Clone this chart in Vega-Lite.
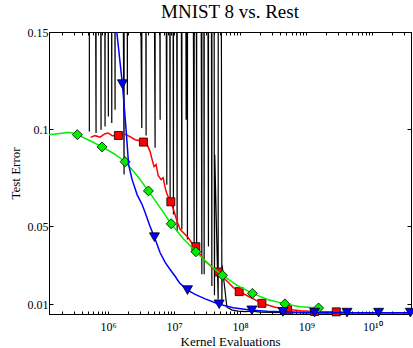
{
  "$schema": "https://vega.github.io/schema/vega-lite/v6.json",
  "width": 362,
  "height": 282,
  "autosize": {"type": "none"},
  "padding": {"left": 49, "top": 32, "right": 2, "bottom": 34},
  "background": "white",
  "title": {"text": "MNIST 8 vs. Rest", "font": "Liberation Serif", "fontSize": 19, "fontWeight": "normal", "color": "black", "baseline": "alphabetic", "offset": 12, "dy": 23, "frame": "group", "anchor": "middle"},
  "config": {
    "view": {"stroke": "black", "strokeWidth": 1},
    "axis": {"grid": false, "domainColor": "black", "tickColor": "black", "labelColor": "black", "titleColor": "black", "labelFont": "Liberation Serif", "titleFont": "Liberation Serif", "labelFontSize": 12, "titleFontSize": 13, "titleFontWeight": "normal", "labelOverlap": false, "labelBound": false, "labelFlush": false}
  },
  "data": {"values": [
    {"s": "black", "k": 520800, "e": 0.0989, "m": 0}, {"s": "black", "k": 526000, "e": 1, "m": 0},
    {"s": "black", "k": 657900, "e": 0.0981, "m": 0}, {"s": "black", "k": 664500, "e": 1, "m": 0},
    {"s": "black", "k": 783200, "e": 0.0997, "m": 0}, {"s": "black", "k": 791000, "e": 1, "m": 0},
    {"s": "black", "k": 900500, "e": 0.1014, "m": 0}, {"s": "black", "k": 909500, "e": 1, "m": 0},
    {"s": "black", "k": 1010400, "e": 0.1066, "m": 0}, {"s": "black", "k": 1020500, "e": 1, "m": 0},
    {"s": "black", "k": 1137900, "e": 0.1032, "m": 0}, {"s": "black", "k": 1149300, "e": 1, "m": 0},
    {"s": "black", "k": 1276700, "e": 0.11, "m": 0}, {"s": "black", "k": 1289500, "e": 1, "m": 0},
    {"s": "black", "k": 1747300, "e": 0.0767, "m": 0}, {"s": "black", "k": 1764800, "e": 1, "m": 0},
    {"s": "black", "k": 1960700, "e": 0.1177, "m": 0}, {"s": "black", "k": 1980300, "e": 1, "m": 0},
    {"s": "black", "k": 3239900, "e": 0.1006, "m": 0}, {"s": "black", "k": 3272300, "e": 1, "m": 0},
    {"s": "black", "k": 3765100, "e": 0.0968, "m": 0}, {"s": "black", "k": 3802800, "e": 1, "m": 0},
    {"s": "black", "k": 5153500, "e": 0.0905, "m": 0}, {"s": "black", "k": 5205000, "e": 1, "m": 0},
    {"s": "black", "k": 6137600, "e": 0.1049, "m": 0}, {"s": "black", "k": 6199000, "e": 1, "m": 0},
    {"s": "black", "k": 7751900, "e": 0.0715, "m": 0}, {"s": "black", "k": 7829400, "e": 1, "m": 0},
    {"s": "black", "k": 8697500, "e": 0.0623, "m": 0}, {"s": "black", "k": 8784500, "e": 1, "m": 0},
    {"s": "black", "k": 9758900, "e": 0.0562, "m": 0}, {"s": "black", "k": 9856500, "e": 1, "m": 0},
    {"s": "black", "k": 11104000, "e": 0.0474, "m": 0}, {"s": "black", "k": 11215000, "e": 1, "m": 0},
    {"s": "black", "k": 13087000, "e": 0.0485, "m": 0}, {"s": "black", "k": 13218000, "e": 1, "m": 0},
    {"s": "black", "k": 15199000, "e": 0.1049, "m": 0}, {"s": "black", "k": 15351000, "e": 1, "m": 0},
    {"s": "black", "k": 15904000, "e": 0.0433, "m": 0}, {"s": "black", "k": 16063000, "e": 1, "m": 0},
    {"s": "black", "k": 20091000, "e": 0.0392, "m": 0}, {"s": "black", "k": 20292000, "e": 1, "m": 0},
    {"s": "black", "k": 21918000, "e": 0.0382, "m": 0}, {"s": "black", "k": 22137000, "e": 1, "m": 0},
    {"s": "black", "k": 26285000, "e": 0.0254, "m": 0}, {"s": "black", "k": 26548000, "e": 1, "m": 0},
    {"s": "black", "k": 28483000, "e": 0.0254, "m": 0}, {"s": "black", "k": 28768000, "e": 1, "m": 0},
    {"s": "black", "k": 33089000, "e": 0.0397, "m": 0}, {"s": "black", "k": 33420000, "e": 1, "m": 0},
    {"s": "black", "k": 37256000, "e": 0.0194, "m": 0}, {"s": "black", "k": 37629000, "e": 1, "m": 0},
    {"s": "black", "k": 40788000, "e": 0.0146, "m": 0}, {"s": "black", "k": 41196000, "e": 0.0869, "m": 0},
    {"s": "black", "k": 46416000, "e": 0.0126, "m": 0}, {"s": "black", "k": 46880000, "e": 1, "m": 0},
    {"s": "black", "k": 52796000, "e": 0.01, "m": 0}, {"s": "black", "k": 53324000, "e": 0.03, "m": 0},
    {"s": "black", "k": 62883000, "e": 0.0085, "m": 0},
    {"s": "black", "k": 75680000, "e": 0.007, "m": 0},
    {"s": "black", "k": 93330000, "e": 0.0065, "m": 0},
    {"s": "black", "k": 119100000, "e": 0.0062, "m": 0},
    {"s": "black", "k": 152100000, "e": 0.0065, "m": 0},
    {"s": "black", "k": 200900000, "e": 0.006, "m": 0},
    {"s": "black", "k": 316200000, "e": 0.0058, "m": 0},
    {"s": "black", "k": 1000000000, "e": 0.0056, "m": 0},
    {"s": "black", "k": 38000000000, "e": 0.0056, "m": 0},

    {"s": "red", "k": 544500, "e": 0.0958, "m": 0},
    {"s": "red", "k": 635300, "e": 0.0967, "m": 0},
    {"s": "red", "k": 756800, "e": 0.0959, "m": 0},
    {"s": "red", "k": 901600, "e": 0.0977, "m": 0},
    {"s": "red", "k": 1000000, "e": 0.0981, "m": 0},
    {"s": "red", "k": 1151000, "e": 0.0967, "m": 0},
    {"s": "red", "k": 1432000, "e": 0.0968, "m": 1},
    {"s": "red", "k": 1746000, "e": 0.0977, "m": 0},
    {"s": "red", "k": 2153000, "e": 0.0962, "m": 0},
    {"s": "red", "k": 2564000, "e": 0.0946, "m": 0},
    {"s": "red", "k": 3055000, "e": 0.0941, "m": 0},
    {"s": "red", "k": 3428000, "e": 0.0934, "m": 1},
    {"s": "red", "k": 3899000, "e": 0.0921, "m": 0},
    {"s": "red", "k": 4325000, "e": 0.0885, "m": 0},
    {"s": "red", "k": 4645000, "e": 0.0844, "m": 0},
    {"s": "red", "k": 4977000, "e": 0.0808, "m": 0},
    {"s": "red", "k": 5333000, "e": 0.0818, "m": 0},
    {"s": "red", "k": 5728000, "e": 0.0762, "m": 0},
    {"s": "red", "k": 6353000, "e": 0.0741, "m": 0},
    {"s": "red", "k": 6808000, "e": 0.0751, "m": 0},
    {"s": "red", "k": 7311000, "e": 0.07, "m": 0},
    {"s": "red", "k": 7834000, "e": 0.0664, "m": 0},
    {"s": "red", "k": 8913000, "e": 0.0627, "m": 1},
    {"s": "red", "k": 10000000, "e": 0.0577, "m": 0},
    {"s": "red", "k": 11090000, "e": 0.0526, "m": 0},
    {"s": "red", "k": 12330000, "e": 0.0485, "m": 0},
    {"s": "red", "k": 14190000, "e": 0.0464, "m": 0},
    {"s": "red", "k": 16290000, "e": 0.0444, "m": 0},
    {"s": "red", "k": 18750000, "e": 0.0413, "m": 0},
    {"s": "red", "k": 21330000, "e": 0.0396, "m": 1},
    {"s": "red", "k": 24770000, "e": 0.0356, "m": 0},
    {"s": "red", "k": 29510000, "e": 0.0321, "m": 0},
    {"s": "red", "k": 35080000, "e": 0.03, "m": 0},
    {"s": "red", "k": 40360000, "e": 0.0279, "m": 0},
    {"s": "red", "k": 46880000, "e": 0.0266, "m": 1},
    {"s": "red", "k": 55210000, "e": 0.0238, "m": 0},
    {"s": "red", "k": 65770000, "e": 0.0213, "m": 0},
    {"s": "red", "k": 78340000, "e": 0.0187, "m": 0},
    {"s": "red", "k": 96610000, "e": 0.0165, "m": 1},
    {"s": "red", "k": 141900000, "e": 0.0136, "m": 0},
    {"s": "red", "k": 213300000, "e": 0.0105, "m": 1},
    {"s": "red", "k": 338800000, "e": 0.0085, "m": 0},
    {"s": "red", "k": 521200000, "e": 0.0074, "m": 1},
    {"s": "red", "k": 811000000, "e": 0.0067, "m": 0},
    {"s": "red", "k": 1337000000, "e": 0.0063, "m": 1},
    {"s": "red", "k": 2851000000, "e": 0.0061, "m": 1},
    {"s": "red", "k": 3899000000, "e": 0.0059, "m": 0},

    {"s": "green", "k": 120000, "e": 0.097, "m": 0},
    {"s": "green", "k": 187500, "e": 0.0978, "m": 0},
    {"s": "green", "k": 239300, "e": 0.0983, "m": 0},
    {"s": "green", "k": 285100, "e": 0.0982, "m": 0},
    {"s": "green", "k": 342800, "e": 0.0972, "m": 1},
    {"s": "green", "k": 533300, "e": 0.0941, "m": 0},
    {"s": "green", "k": 811000, "e": 0.0909, "m": 1},
    {"s": "green", "k": 1233000, "e": 0.0874, "m": 0},
    {"s": "green", "k": 1811000, "e": 0.0833, "m": 1},
    {"s": "green", "k": 2748000, "e": 0.0762, "m": 0},
    {"s": "green", "k": 4083000, "e": 0.0683, "m": 1},
    {"s": "green", "k": 6138000, "e": 0.0597, "m": 0},
    {"s": "green", "k": 9016000, "e": 0.0514, "m": 1},
    {"s": "green", "k": 13680000, "e": 0.0438, "m": 0},
    {"s": "green", "k": 21330000, "e": 0.037, "m": 1},
    {"s": "green", "k": 33880000, "e": 0.0305, "m": 0},
    {"s": "green", "k": 53950000, "e": 0.0249, "m": 1},
    {"s": "green", "k": 90160000, "e": 0.0197, "m": 0},
    {"s": "green", "k": 153500000, "e": 0.0156, "m": 1},
    {"s": "green", "k": 265500000, "e": 0.0123, "m": 0},
    {"s": "green", "k": 475300000, "e": 0.0102, "m": 1},
    {"s": "green", "k": 811000000, "e": 0.0087, "m": 0},
    {"s": "green", "k": 1535000000, "e": 0.0081, "m": 1},

    {"s": "blue", "k": 1170000, "e": 0.17, "m": 0},
    {"s": "blue", "k": 1355000, "e": 0.15, "m": 0},
    {"s": "blue", "k": 1648000, "e": 0.1232, "m": 1},
    {"s": "blue", "k": 1875000, "e": 0.0997, "m": 0},
    {"s": "blue", "k": 2046000, "e": 0.0818, "m": 0},
    {"s": "blue", "k": 2312000, "e": 0.0741, "m": 0},
    {"s": "blue", "k": 2748000, "e": 0.0664, "m": 0},
    {"s": "blue", "k": 3273000, "e": 0.0613, "m": 0},
    {"s": "blue", "k": 3639000, "e": 0.0572, "m": 0},
    {"s": "blue", "k": 4325000, "e": 0.05, "m": 0},
    {"s": "blue", "k": 5035000, "e": 0.0445, "m": 1},
    {"s": "blue", "k": 6138000, "e": 0.0365, "m": 0},
    {"s": "blue", "k": 7311000, "e": 0.0315, "m": 0},
    {"s": "blue", "k": 8690000, "e": 0.0279, "m": 0},
    {"s": "blue", "k": 10350000, "e": 0.0244, "m": 0},
    {"s": "blue", "k": 12020000, "e": 0.0211, "m": 0},
    {"s": "blue", "k": 15920000, "e": 0.0173, "m": 1},
    {"s": "blue", "k": 20800000, "e": 0.0151, "m": 0},
    {"s": "blue", "k": 29510000, "e": 0.0128, "m": 0},
    {"s": "blue", "k": 48080000, "e": 0.01, "m": 1},
    {"s": "blue", "k": 78340000, "e": 0.0082, "m": 0},
    {"s": "blue", "k": 150300000, "e": 0.0069, "m": 1},
    {"s": "blue", "k": 256400000, "e": 0.0064, "m": 0},
    {"s": "blue", "k": 443600000, "e": 0.0061, "m": 1},
    {"s": "blue", "k": 1337000000, "e": 0.0057, "m": 1},
    {"s": "blue", "k": 4140000000, "e": 0.0057, "m": 1},
    {"s": "blue", "k": 12450000000, "e": 0.0057, "m": 1},
    {"s": "blue", "k": 37670000000, "e": 0.0057, "m": 1}
  ]},
  "layer": [
    {
      "transform": [{"filter": "datum.s == 'black'"}],
      "mark": {"type": "line", "color": "black", "strokeWidth": 1.2, "clip": true},
      "encoding": {
        "x": {"field": "k", "type": "quantitative", "scale": {"type": "log", "domain": [127600, 38500000000], "nice": false},
          "axis": {"orient": "bottom", "values": [200000,300000,400000,500000,600000,700000,800000,900000,1000000,2000000,3000000,4000000,5000000,6000000,7000000,8000000,9000000,10000000,20000000,30000000,40000000,50000000,60000000,70000000,80000000,90000000,100000000,200000000,300000000,400000000,500000000,600000000,700000000,800000000,900000000,1000000000,2000000000,3000000000,4000000000,5000000000,6000000000,7000000000,8000000000,9000000000,10000000000,20000000000,30000000000],
            "labelExpr": "datum.value == 1000000 ? '10⁶' : datum.value == 10000000 ? '10⁷' : datum.value == 100000000 ? '10⁸' : datum.value == 1000000000 ? '10⁹' : datum.value == 10000000000 ? '10¹⁰' : ''",
            "title": "Kernel Evaluations", "titleY": 31, "titleBaseline": "alphabetic", "labelPadding": 10, "labelBaseline": "top", "tickSize": -3}},
        "y": {"field": "e", "type": "quantitative", "scale": {"domain": [0.005, 0.15], "nice": false, "zero": false},
          "axis": {"orient": "left", "values": [0.01, 0.05, 0.1, 0.15], "labelExpr": "'' + datum.value", "title": "Test Error", "titleX": -30, "titleBaseline": "alphabetic", "labelPadding": 5, "tickSize": -4}}
      }
    },
    {
      "transform": [{"filter": "datum.s == 'red'"}],
      "mark": {"type": "line", "color": "#ff0000", "strokeWidth": 1.5, "clip": true},
      "encoding": {
        "x": {"field": "k", "type": "quantitative", "scale": {"type": "log", "domain": [127600, 38500000000], "nice": false},
          "axis": {"orient": "top", "values": [200000,300000,400000,500000,600000,700000,800000,900000,1000000,2000000,3000000,4000000,5000000,6000000,7000000,8000000,9000000,10000000,20000000,30000000,40000000,50000000,60000000,70000000,80000000,90000000,100000000,200000000,300000000,400000000,500000000,600000000,700000000,800000000,900000000,1000000000,2000000000,3000000000,4000000000,5000000000,6000000000,7000000000,8000000000,9000000000,10000000000,20000000000,30000000000], "labels": false, "title": null, "tickSize": -3}},
        "y": {"field": "e", "type": "quantitative", "scale": {"domain": [0.005, 0.15], "nice": false, "zero": false},
          "axis": {"orient": "right", "values": [0.01, 0.05, 0.1, 0.15], "labels": false, "title": null, "tickSize": -4}}
      }
    },
    {
      "transform": [{"filter": "datum.s == 'red' && datum.m == 1"}],
      "mark": {"type": "point", "shape": "square", "filled": true, "fill": "#ff0000", "stroke": "#000000", "strokeWidth": 0.8, "size": 64, "opacity": 1},
      "encoding": {
        "x": {"field": "k", "type": "quantitative", "scale": {"type": "log", "domain": [127600, 38500000000], "nice": false}, "axis": null},
        "y": {"field": "e", "type": "quantitative", "scale": {"domain": [0.005, 0.15], "nice": false, "zero": false}, "axis": null}
      }
    },
    {
      "transform": [{"filter": "datum.s == 'green'"}],
      "mark": {"type": "line", "color": "#00ee00", "strokeWidth": 1.5, "clip": true},
      "encoding": {
        "x": {"field": "k", "type": "quantitative", "scale": {"type": "log", "domain": [127600, 38500000000], "nice": false}, "axis": null},
        "y": {"field": "e", "type": "quantitative", "scale": {"domain": [0.005, 0.15], "nice": false, "zero": false}, "axis": null}
      }
    },
    {
      "transform": [{"filter": "datum.s == 'green' && datum.m == 1"}],
      "mark": {"type": "point", "shape": "diamond", "filled": true, "fill": "#00ee00", "stroke": "#000000", "strokeWidth": 0.8, "size": 100, "opacity": 1},
      "encoding": {
        "x": {"field": "k", "type": "quantitative", "scale": {"type": "log", "domain": [127600, 38500000000], "nice": false}, "axis": null},
        "y": {"field": "e", "type": "quantitative", "scale": {"domain": [0.005, 0.15], "nice": false, "zero": false}, "axis": null}
      }
    },
    {
      "transform": [{"filter": "datum.s == 'blue'"}],
      "mark": {"type": "line", "color": "#0000ff", "strokeWidth": 1.5, "clip": true},
      "encoding": {
        "x": {"field": "k", "type": "quantitative", "scale": {"type": "log", "domain": [127600, 38500000000], "nice": false}, "axis": null},
        "y": {"field": "e", "type": "quantitative", "scale": {"domain": [0.005, 0.15], "nice": false, "zero": false}, "axis": null}
      }
    },
    {
      "transform": [{"filter": "datum.s == 'blue' && datum.m == 1"}],
      "mark": {"type": "point", "shape": "triangle-down", "filled": true, "fill": "#0000ff", "stroke": "#000000", "strokeWidth": 0.8, "size": 100, "opacity": 1},
      "encoding": {
        "x": {"field": "k", "type": "quantitative", "scale": {"type": "log", "domain": [127600, 38500000000], "nice": false}, "axis": null},
        "y": {"field": "e", "type": "quantitative", "scale": {"domain": [0.005, 0.15], "nice": false, "zero": false}, "axis": null}
      }
    }
  ],
  "resolve": {"axis": {"x": "independent", "y": "independent"}}
}
